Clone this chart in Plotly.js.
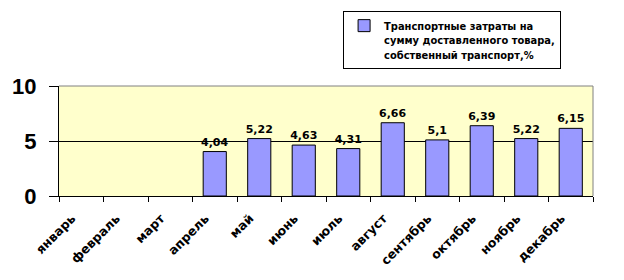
<!DOCTYPE html>
<html><head><meta charset="utf-8">
<script src="https://cdn.plot.ly/plotly-3.0.1.min.js"></script>
<style>html,body{margin:0;padding:0;background:#fff}#c{width:624px;height:280px}</style>
</head><body><div id="c"></div>
<script>
const months = ["январь","февраль","март","апрель","май","июнь","июль","август","сентябрь","октябрь","ноябрь","декабрь"];
const values = [null,null,null,4.04,5.22,4.63,4.31,6.66,5.1,6.39,5.22,6.15];
const labels = ["","","","4,04","5,22","4,63","4,31","6,66","5,1","6,39","5,22","6,15"];
const seriesName = "Транспортные затраты на<br>сумму доставленного товара,<br>собственный транспорт,%";
const yTicks = [0,5,10];

const pad = "\u00a0".repeat(3);
Plotly.newPlot("c", [{
  type: "bar",
  x: months, y: values, name: seriesName,
  text: labels, textposition: "outside", cliponaxis: false, constraintext: "none",
  textfont: {family: "DejaVu Sans", size: 11, color: "#000", weight: "bold"},
  marker: {color: "#9999FF", line: {color: "#000", width: 1}},
  showlegend: true
}], {
  width: 624, height: 280,
  margin: {l: 59, r: 31, t: 86, b: 84, autoexpand: false},
  paper_bgcolor: "#fff", plot_bgcolor: "#FFFFCC",
  bargap: 0.48,
  showlegend: true,
  legend: {x: 0.532, y: 1.682, xanchor: "left", yanchor: "top", bgcolor: "#fff",
    bordercolor: "#000", borderwidth: 1, valign: "top",
    font: {family: "DejaVu Sans Condensed, DejaVu Sans", size: 11, color: "#000", weight: "bold"}},
  xaxis: {type: "category", tickangle: -45, tickson: "boundaries", ticks: "outside", ticklen: 5,
    tickcolor: "#000", showline: true, linecolor: "#000", linewidth: 1, automargin: false,
    tickvals: months, ticktext: months.map(m => m + pad),
    tickfont: {family: "DejaVu Sans", size: 12.5, color: "#000", weight: "bold"}},
  yaxis: {range: [0,10], tickvals: yTicks, ticktext: yTicks.map(String), ticks: "outside", ticklen: 9,
    tickcolor: "#000", showline: true, linecolor: "#000", showgrid: true, gridcolor: "#000", gridwidth: 1,
    zeroline: false, ticklabelstandoff: 8, automargin: false,
    tickfont: {family: "Liberation Sans", size: 22, color: "#000", weight: "bold"}},
  shapes: [{type: "line", xref: "paper", yref: "paper", x0: 0, x1: 1, y0: 1, y1: 1, line: {color: "#808080", width: 1}, layer: "above"},
           {type: "line", xref: "paper", yref: "paper", x0: 1, x1: 1, y0: 0, y1: 1, line: {color: "#808080", width: 1}, layer: "above"}]
}, {displayModeBar: false, staticPlot: true});
</script></body></html>
